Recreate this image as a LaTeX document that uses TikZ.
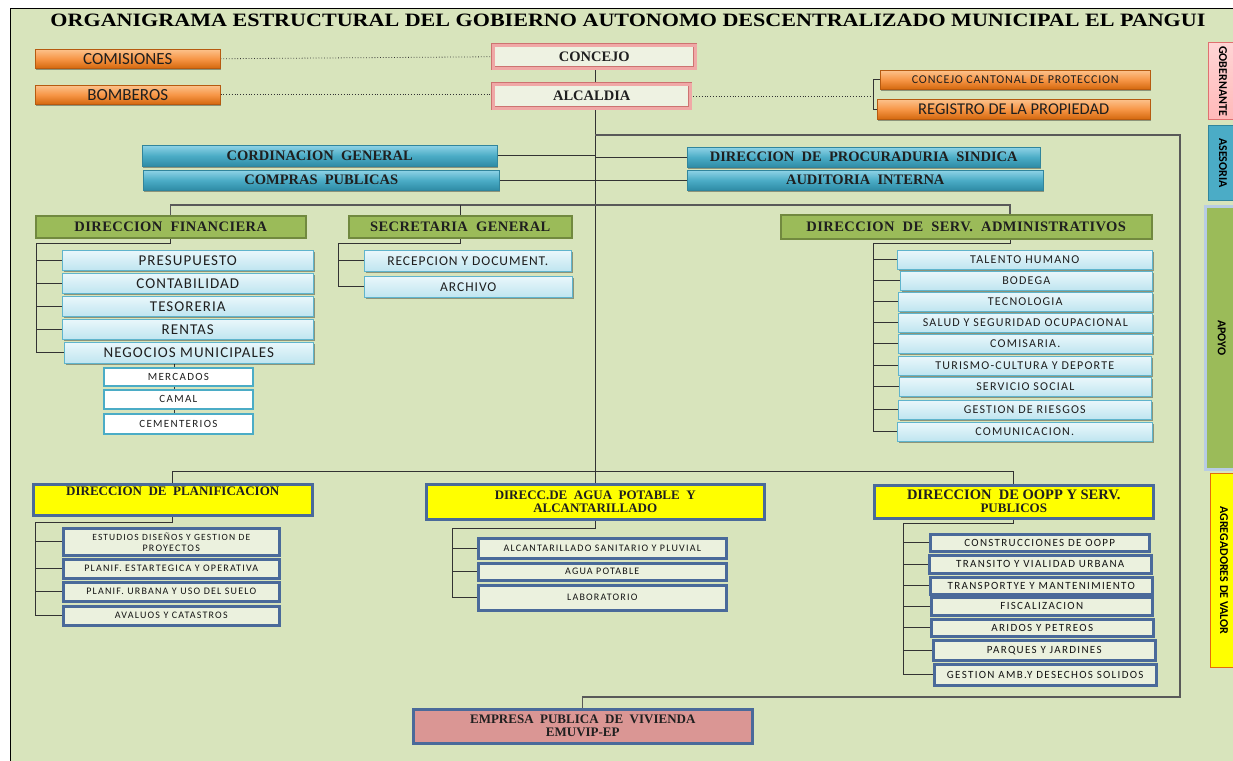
\documentclass[tikz,border=0pt]{standalone}
\usepackage{fontspec}
\usepackage{graphicx}
\usetikzlibrary{shadows}
\newfontfamily\serf{Liberation Serif}
\newfontfamily\serfs{Liberation Serif}[LetterSpace=3]
\newfontfamily\sanf{Carlito}
\newfontfamily\sanfa{Carlito}[LetterSpace=7]
\newfontfamily\sanfb{Carlito}[LetterSpace=10]
\newfontfamily\sanfc{Carlito}[LetterSpace=12]
\definecolor{bgc}{HTML}{D8E4BC}
\definecolor{orA}{HTML}{FCC28C}
\definecolor{orB}{HTML}{F79646}
\definecolor{orC}{HTML}{D4680E}
\definecolor{orD}{HTML}{B65A10}
\definecolor{blA}{HTML}{8FD3E6}
\definecolor{blB}{HTML}{4BACC6}
\definecolor{blC}{HTML}{2E8BA5}
\definecolor{blD}{HTML}{31859C}
\definecolor{olF}{HTML}{9BBB59}
\definecolor{olD}{HTML}{71893F}
\definecolor{lbA}{HTML}{EAF7FB}
\definecolor{lbB}{HTML}{BFE5F0}
\definecolor{lbD}{HTML}{5FB4CC}
\definecolor{ylw}{HTML}{FFFF00}
\definecolor{stl}{HTML}{4A6A9A}
\definecolor{pale}{HTML}{EBF1DE}
\definecolor{emp}{HTML}{DA9694}
\definecolor{pkF}{HTML}{F0A8A6}
\definecolor{pkD}{HTML}{C0504D}
\definecolor{cjF}{HTML}{EEF2E2}
\definecolor{gobF}{HTML}{FFB9B9}
\definecolor{gobD}{HTML}{E07070}
\definecolor{apD}{HTML}{B8CCE4}
\definecolor{agD}{HTML}{E46C0A}
\definecolor{lnc}{HTML}{333333}
\pgfdeclarelayer{back}
\pgfdeclarelayer{lines}
\pgfsetlayers{back,lines,main}
\newcommand\bx[7]{\node[#6, anchor=north west, minimum width={(#4-#2)*1pt}, minimum height={(#5-#3)*1pt}] (#1) at (#2,#3) {#7};}
\tikzset{
  base/.style={inner sep=0pt, align=center, text=black!88},
  shd/.style={drop shadow={shadow xshift=1.2pt, shadow yshift=-1.5pt, fill=black, opacity=0.35}},
  orng/.style={base, shd, draw=orD, line width=0.5pt, top color=orA, bottom color=orC, middle color=orB, font=\sanf\fontsize{17}{18}\selectfont},
  hdr/.style={base, shd, draw=blD, line width=0.5pt, top color=blA, bottom color=blC, middle color=blB, font=\serf\bfseries\fontsize{14.5}{15}\selectfont},
  olv/.style={base, shd, draw=olD, line width=1.5pt, fill=olF, font=\serfs\bfseries\fontsize{14.5}{15}\selectfont},
  lbx/.style={base, shd, draw=lbD, line width=0.6pt, top color=lbA, bottom color=lbB, font=\sanfa\fontsize{15}{16}\selectfont},
  lbxs/.style={lbx, font=\sanfb\fontsize{12}{13}\selectfont},
  lbxm/.style={lbx, font=\sanfa\fontsize{13.5}{14}\selectfont},
  wbx/.style={base, draw=blB, line width=1.8pt, fill=white, font=\sanfc\fontsize{11}{12}\selectfont},
  ybx/.style={base, shd, draw=stl, line width=2.5pt, fill=ylw, font=\serf\bfseries\fontsize{13}{13}\selectfont},
  pbx/.style={base, shd, draw=stl, line width=2.5pt, fill=pale, text=black!92, font=\sanfc\fontsize{10}{11}\selectfont},
  obx/.style={pbx, font=\sanfc\fontsize{11}{12}\selectfont},
  ebx/.style={base, shd, draw=stl, line width=2.5pt, fill=emp, font=\serf\bfseries\fontsize{13}{13}\selectfont},
  cjx/.style={base, draw=pkD!80, double=pkF, double distance=3pt, line width=0.5pt, fill=cjF, font=\serf\bfseries\fontsize{14.5}{15}\selectfont},
  side/.style={base, font=\sanf\bfseries\fontsize{12}{13}\selectfont, text=black},
  conn/.style={draw=lnc, line width=1pt},
  loopc/.style={draw=black!65, line width=1.3pt},
  dotc/.style={draw=black!80, line width=0.8pt, dotted},
}
\begin{document}
\begin{tikzpicture}[x=1pt,y=-1pt]
\useasboundingbox (0,0) rectangle (1233,760);
\begin{pgfonlayer}{back}
\fill[white] (0,0) rectangle (1233,760);
\fill[bgc] (10,9) rectangle (1240,765);
\draw[black, line width=1pt] (10,765) -- (10,9) -- (1240,9);
\end{pgfonlayer}
% title
\node[base, text=black] (title) at (628,20) {\resizebox{1155pt}{12.5pt}{\serf\bfseries ORGANIGRAMA ESTRUCTURAL DEL GOBIERNO AUTONOMO DESCENTRALIZADO MUNICIPAL EL PANGUI}};
% top
\bx{comisiones}{35}{49}{220}{68}{orng}{COMISIONES}
\bx{bomberos}{35}{85}{220}{104}{orng}{BOMBEROS}
\bx{concejo}{493}{45}{695}{68}{cjx}{CONCEJO}
\bx{alcaldia}{493}{84}{690}{108}{cjx}{ALCALDIA}
\bx{cantonal}{880}{70}{1150}{89}{orng}{\fontsize{12}{13}\sanfa\selectfont CONCEJO CANTONAL DE PROTECCION}
\bx{registro}{877}{99}{1150}{119}{orng}{\fontsize{16.5}{17}\selectfont REGISTRO DE LA PROPIEDAD}
% asesoria
\bx{cord}{142}{145}{497}{166}{hdr}{CORDINACION\ \ GENERAL}
\bx{compras}{143}{170}{499}{190}{hdr}{COMPRAS\ \ PUBLICAS}
\bx{procu}{687}{147}{1040}{167}{hdr}{DIRECCION\ \ DE\ \ PROCURADURIA\ \ SINDICA}
\bx{audit}{687}{170}{1043}{190}{hdr}{AUDITORIA\ \ INTERNA}
% apoyo
\bx{fin}{35}{215}{305}{237}{olv}{DIRECCION\ \ FINANCIERA}
\bx{sec}{348}{215}{571}{237}{olv}{SECRETARIA\ \ GENERAL}
\bx{servadm}{780}{214}{1151}{238}{olv}{DIRECCION\ \ DE\ \ SERV.\ \ ADMINISTRATIVOS}
\bx{presup}{62}{250}{313}{270}{lbx}{PRESUPUESTO}
\bx{contab}{62}{273}{313}{293}{lbx}{CONTABILIDAD}
\bx{tesor}{62}{296}{313}{316}{lbx}{TESORERIA}
\bx{rentas}{62}{319}{313}{339}{lbx}{RENTAS}
\bx{negoc}{64}{342}{313}{363}{lbx}{NEGOCIOS MUNICIPALES}
\bx{mercados}{103}{367}{252}{385}{wbx}{MERCADOS}
\bx{camal}{103}{389}{252}{408}{wbx}{CAMAL}
\bx{cement}{103}{413}{252}{433}{wbx}{CEMENTERIOS}
\bx{recep}{364}{250}{571}{271}{lbxm}{RECEPCION Y DOCUMENT.}
\bx{archivo}{364}{276}{572}{297}{lbxm}{ARCHIVO}
\bx{talento}{897}{250}{1152}{269}{lbxs}{TALENTO HUMANO}
\bx{bodega}{900}{271}{1152}{290}{lbxs}{BODEGA}
\bx{tecnol}{898}{292}{1152}{311}{lbxs}{TECNOLOGIA}
\bx{salud}{898}{313}{1152}{332}{lbxs}{SALUD Y SEGURIDAD OCUPACIONAL}
\bx{comisaria}{898}{334}{1152}{353}{lbxs}{COMISARIA.}
\bx{turismo}{898}{356}{1151}{375}{lbxs}{TURISMO-CULTURA Y DEPORTE}
\bx{servsoc}{899}{377}{1151}{396}{lbxs}{SERVICIO SOCIAL}
\bx{riesgos}{898}{400}{1151}{419}{lbxs}{GESTION DE RIESGOS}
\bx{comunic}{897}{422}{1152}{441}{lbxs}{COMUNICACION.}
% agregadores de valor
\bx{planif}{32}{483}{311}{514}{ybx}{DIRECCION\ \ DE\ \ PLANIFICACION\\[1pt]\strut}
\bx{agua}{425}{483}{763}{518}{ybx}{DIRECC.DE\ \ AGUA\ \ POTABLE\ \ Y\\ALCANTARILLADO}
\bx{oopp}{873}{484}{1152}{517}{ybx}{\fontsize{14.5}{13}\selectfont DIRECCION\ \ DE OOPP Y SERV.\\PUBLICOS}
\bx{estudios}{62}{527}{278}{554}{pbx}{\fontsize{9.5}{11}\selectfont ESTUDIOS DISEÑOS Y GESTION DE\\PROYECTOS}
\bx{estrat}{62}{558}{278}{577}{pbx}{PLANIF. ESTARTEGICA Y OPERATIVA}
\bx{urbana}{62}{581}{278}{600}{pbx}{PLANIF. URBANA Y USO DEL SUELO}
\bx{avaluos}{62}{605}{278}{624}{pbx}{AVALUOS Y CATASTROS}
\bx{alcant}{477}{537}{725}{557}{pbx}{ALCANTARILLADO SANITARIO Y PLUVIAL}
\bx{aguapot}{477}{562}{725}{579}{pbx}{AGUA POTABLE}
\bx{labor}{477}{584}{725}{609}{pbx}{LABORATORIO}
\bx{constr}{929}{533}{1148}{550}{obx}{CONSTRUCCIONES DE OOPP}
\bx{transito}{928}{554}{1150}{572}{obx}{TRANSITO Y VIALIDAD URBANA}
\bx{transp}{929}{576}{1151}{593}{obx}{TRANSPORTYE Y MANTENIMIENTO}
\bx{fiscal}{930}{596}{1151}{614}{obx}{FISCALIZACION}
\bx{aridos}{930}{618}{1152}{635}{obx}{ARIDOS Y PETREOS}
\bx{parques}{932}{639}{1154}{659}{obx}{PARQUES Y JARDINES}
\bx{gestamb}{933}{663}{1155}{684}{obx}{GESTION AMB.Y DESECHOS SOLIDOS}
\bx{empresa}{412}{708}{751}{742}{ebx}{EMPRESA\ \ PUBLICA\ \ DE\ \ VIVIENDA\\EMUVIP-EP}
% side bars
\bx{gob}{1208}{42}{1237}{119}{side, draw=gobD, line width=1pt, top color=gobF!60!white, bottom color=gobF}{\rotatebox{-90}{GOBERNANTE}}
\bx{ases}{1208}{125}{1237}{200}{side, draw=blD, line width=1.2pt, fill=blB}{\rotatebox{-90}{ASESORIA}}
\bx{apoyo}{1204}{205}{1237}{468}{side, draw=apD, line width=2.5pt, fill=olF}{\rotatebox{-90}{APOYO}}
\bx{agreg}{1210}{473}{1237}{667}{side, draw=agD, line width=1pt, fill=ylw}{\rotatebox{-90}{AGREGADORES DE VALOR}}
% connectors
\begin{pgfonlayer}{lines}
\draw[dotc] (comisiones.east) -- (concejo.west);
\draw[dotc] (bomberos.east) -- (bomberos.east -| alcaldia.west);
\coordinate (brk) at (873,96);
\draw[dotc] (alcaldia.east) -- (alcaldia.east -| brk);
\draw[conn] (cantonal.west) -- (cantonal.west -| brk) -- (registro.west -| brk) -- (registro.west);
\draw[conn] (concejo.south -| agua.north) -- (alcaldia.north -| agua.north);
\draw[conn] (alcaldia.south -| agua.north) -- (agua.north);
\foreach \n in {cord,compras} \draw[conn] (\n.east) -- (\n.east -| agua.north);
\foreach \n in {procu,audit} \draw[conn] (\n.west) -- (\n.west -| agua.north);
\coordinate (lpR) at (1180,135);
\coordinate (lpB) at (1180,697);
\draw[loopc] (agua.north |- lpR) -- (lpR) -- (lpB) -- (empresa.north |- lpB) -- (empresa.north);
% level 2
\coordinate (l2) at (0,205);
\coordinate (sadrop) at (1010,0);
\draw[loopc] (fin.north) -- (fin.north |- l2) -- (sadrop |- l2) -- (servadm.north -| sadrop);
\draw[conn] (sec.north) -- (sec.north |- l2);
% financiera
\coordinate (finbus) at (36,243);
\draw[conn] (fin.south) -- (fin.south |- finbus) -- (finbus) -- (finbus |- negoc.west);
\foreach \n in {presup,contab,tesor,rentas,negoc} \draw[conn] (finbus |- \n.west) -- (\n.west);
\coordinate (mx) at (174,0);
\draw[conn] (negoc.south -| mx) -- (mercados.north -| mx);
\draw[conn] (mercados.south -| mx) -- (camal.north -| mx);
\draw[conn] (camal.south -| mx) -- (cement.north -| mx);
% secretaria
\coordinate (secbus) at (338,243);
\draw[conn] (sec.south) -- (sec.south |- secbus) -- (secbus) -- (secbus |- archivo.west);
\foreach \n in {recep,archivo} \draw[conn] (secbus |- \n.west) -- (\n.west);
% serv admin
\coordinate (sabus) at (873,243);
\draw[conn] (servadm.south -| sadrop) -- (sadrop |- sabus) -- (sabus) -- (sabus |- comunic.west);
\foreach \n in {talento,bodega,tecnol,salud,comisaria,turismo,servsoc,riesgos,comunic} \draw[conn] (sabus |- \n.west) -- (\n.west);
% level 3
\coordinate (l3) at (0,471);
\draw[conn] (planif.north) -- (planif.north |- l3) -- (oopp.north |- l3) -- (oopp.north);
% planificacion
\coordinate (plbus) at (35,522);
\draw[conn] (planif.south) -- (planif.south |- plbus) -- (plbus) -- (plbus |- avaluos.west);
\foreach \n in {estudios,estrat,urbana,avaluos} \draw[conn] (plbus |- \n.west) -- (\n.west);
% agua
\coordinate (agbus) at (452,528);
\draw[conn] (agua.south) -- (agua.south |- agbus) -- (agbus) -- (agbus |- labor.west);
\foreach \n in {alcant,aguapot,labor} \draw[conn] (agbus |- \n.west) -- (\n.west);
% oopp
\coordinate (opbus) at (903,523);
\draw[conn] (oopp.south) -- (oopp.south |- opbus) -- (opbus) -- (opbus |- gestamb.west);
\foreach \n in {constr,transito,transp,fiscal,aridos,parques,gestamb} \draw[conn] (opbus |- \n.west) -- (\n.west);
\end{pgfonlayer}
\end{tikzpicture}
\end{document}
